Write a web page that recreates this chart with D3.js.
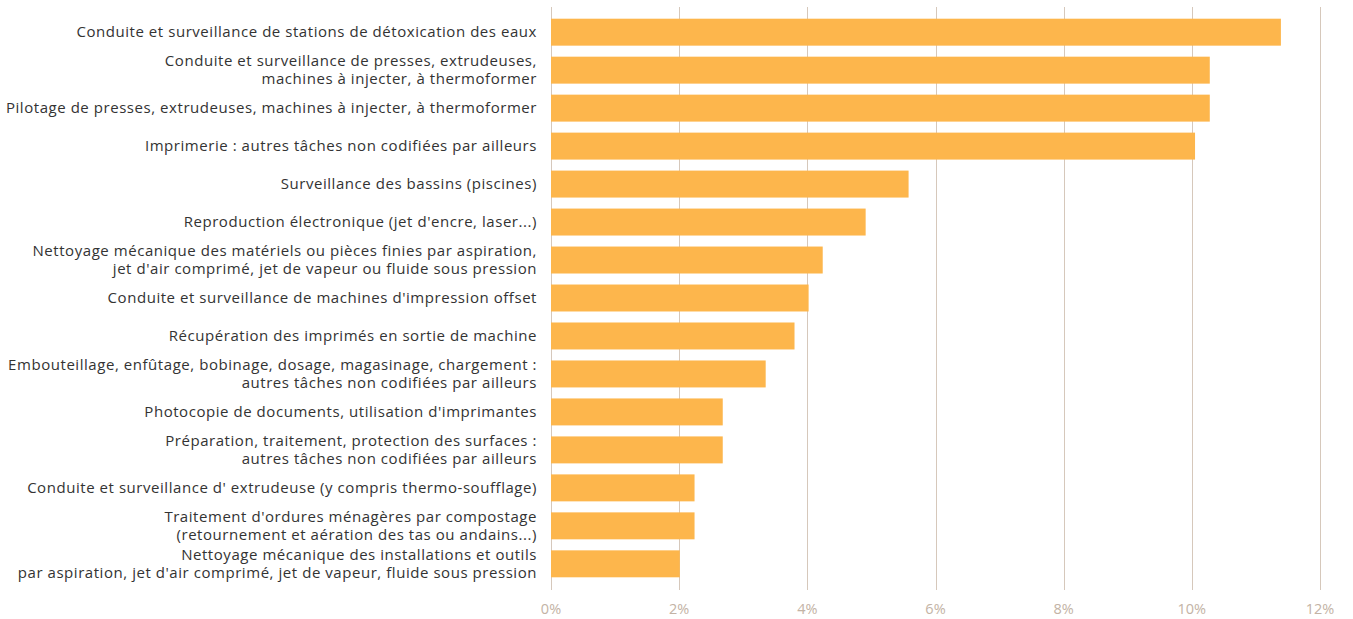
<!DOCTYPE html>
<html>
<head>
<meta charset="utf-8">
<script src="https://cdn.jsdelivr.net/npm/d3@7"></script>
<style>
  body { margin: 0; background: #fff; }
  svg { display: block; }
</style>
</head>
<body>
<script>
var w = 1353;
var h = 619;

var categories = [
    ["Conduite et surveillance de stations de détoxication des eaux"],
    ["Conduite et surveillance de presses, extrudeuses,", "machines à injecter, à thermoformer"],
    ["Pilotage de presses, extrudeuses, machines à injecter, à thermoformer"],
    ["Imprimerie : autres tâches non codifiées par ailleurs"],
    ["Surveillance des bassins (piscines)"],
    ["Reproduction électronique (jet d'encre, laser...)"],
    ["Nettoyage mécanique des matériels ou pièces finies par aspiration,", "jet d'air comprimé, jet de vapeur ou fluide sous pression"],
    ["Conduite et surveillance de machines d'impression offset"],
    ["Récupération des imprimés en sortie de machine"],
    ["Embouteillage, enfûtage, bobinage, dosage, magasinage, chargement :", "autres tâches non codifiées par ailleurs"],
    ["Photocopie de documents, utilisation d'imprimantes"],
    ["Préparation, traitement, protection des surfaces :", "autres tâches non codifiées par ailleurs"],
    ["Conduite et surveillance d' extrudeuse (y compris thermo-soufflage)"],
    ["Traitement d'ordures ménagères par compostage", "(retournement et aération des tas ou andains...)"],
    ["Nettoyage mécanique des installations et outils", "par aspiration, jet d'air comprimé, jet de vapeur, fluide sous pression"]
];
var values = [11.39, 10.28, 10.28, 10.05, 5.58, 4.91, 4.24, 4.02, 3.80, 3.35, 2.68, 2.68, 2.24, 2.24, 2.01];
var ticks = [0, 2, 4, 6, 8, 10, 12];

var svg = d3.select("body")
    .append("svg")
    .attr("width", w)
    .attr("height", h);

var x = d3.scaleLinear().domain([0, 12]).range([551, 1320]);
var y = d3.scaleBand()
    .domain(d3.range(values.length))
    .range([13, 583])
    .paddingInner(0.29)
    .paddingOuter(0.15);

// gridlines
svg.selectAll("line.grid")
    .data(ticks)
    .enter()
    .append("line")
    .attr("class", "grid")
    .attr("x1", function (d) { return Math.round(x(d)) + 0.5; })
    .attr("x2", function (d) { return Math.round(x(d)) + 0.5; })
    .attr("y1", 7)
    .attr("y2", 590)
    .attr("stroke", "#d6c8bb")
    .attr("stroke-width", 1);

svg.selectAll("rect")
    .data(values)
    .enter()
    .append("rect")
    .attr("x", x(0))
    .attr("y", function (d, i) { return y(i); })
    .attr("width", function (d) { return x(d) - x(0); })
    .attr("height", y.bandwidth())
    .attr("fill", "#fdb64c");

// tick labels
svg.selectAll("text.tick")
    .data(ticks)
    .enter()
    .append("text")
    .attr("class", "tick")
    .attr("x", function (d) { return x(d); })
    .attr("y", 614)
    .attr("text-anchor", "middle")
    .attr("font-family", "Open Sans, sans-serif")
    .attr("font-size", 14.5)
    .attr("fill", "#c3b3a5")
    .text(function (d) { return d + "%"; });

// category labels
var labels = svg.selectAll("text.cat")
    .data(categories)
    .enter()
    .append("text")
    .attr("class", "cat")
    .attr("text-anchor", "end")
    .attr("font-family", "Open Sans, sans-serif")
    .attr("font-size", 15)
    .attr("letter-spacing", 0.55)
    .attr("fill", "#333")
    .attr("transform", function (d, i) {
        var cy = y(i) + y.bandwidth() / 2;
        return "translate(537," + (cy - (d.length - 1) * 9) + ")";
    });

labels.selectAll("tspan")
    .data(function (d) { return d; })
    .enter()
    .append("tspan")
    .attr("x", 0)
    .attr("y", function (d, i) { return i * 18; })
    .attr("dy", "0.35em")
    .text(function (d) { return d; });
</script>
</body>
</html>
